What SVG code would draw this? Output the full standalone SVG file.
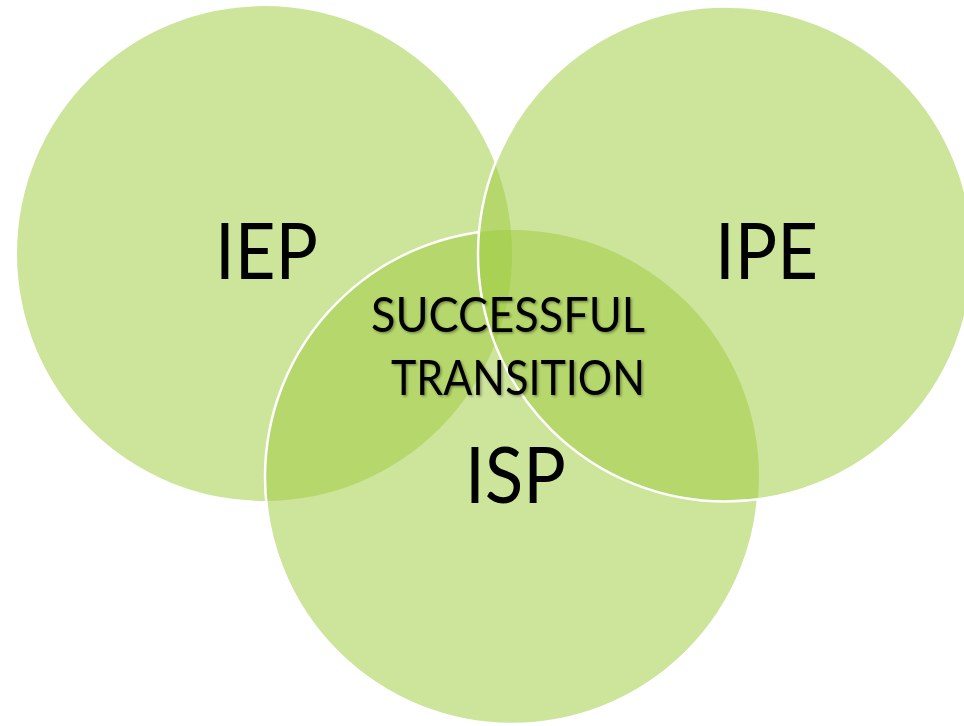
<svg xmlns="http://www.w3.org/2000/svg" width="964" height="726" viewBox="0 0 964 726">
  <style>
    .fill { fill: #9fcb3f; fill-opacity: 0.52; stroke: none; }
    .edge { fill: none; stroke: #ffffff; stroke-width: 2.5; }
    .big { font-family: "Lato", "Liberation Sans", sans-serif; font-size: 77px; fill: #000000; }
    .mid { font-family: "Lato", "Liberation Sans", sans-serif; font-size: 49px; fill: #000000; }
  </style>
  <defs>
    <mask id="outsideIPE" maskUnits="userSpaceOnUse" x="0" y="0" width="964" height="726">
      <rect x="0" y="0" width="964" height="726" fill="#ffffff"/>
      <circle cx="725.5" cy="254" r="247.5" fill="#000000"/>
    </mask>
    <filter id="shadow" x="-10%" y="-30%" width="120%" height="160%">
      <feDropShadow dx="1.5" dy="1.5" stdDeviation="1" flood-color="#000000" flood-opacity="0.35"/>
    </filter>
  </defs>
  <rect x="0" y="0" width="964" height="726" fill="#ffffff"/>
  <g id="iep">
    <circle class="fill" cx="264.5" cy="253.5" r="247.5"/>
  </g>
  <g id="isp">
    <circle class="fill" cx="512" cy="477" r="247"/>
    <circle class="edge" cx="512" cy="477" r="247" mask="url(#outsideIPE)"/>
  </g>
  <g id="ipe">
    <circle class="fill" cx="725.5" cy="254" r="247.5"/>
    <circle class="edge" cx="725.5" cy="254" r="247.5"/>
  </g>
  <g id="labels">
    <text class="big" x="266.5" y="279" text-anchor="middle" textLength="103" lengthAdjust="spacingAndGlyphs">IEP</text>
    <text class="big" x="766.5" y="279" text-anchor="middle" textLength="103" lengthAdjust="spacingAndGlyphs">IPE</text>
    <text class="big" x="515.5" y="503" text-anchor="middle" textLength="101" lengthAdjust="spacingAndGlyphs">ISP</text>
  </g>
  <g id="center" filter="url(#shadow)">
    <text class="mid" x="508" y="332" text-anchor="middle" textLength="274" lengthAdjust="spacingAndGlyphs">SUCCESSFUL</text>
    <text class="mid" x="518" y="395" text-anchor="middle" textLength="254" lengthAdjust="spacingAndGlyphs">TRANSITION</text>
  </g>
</svg>
